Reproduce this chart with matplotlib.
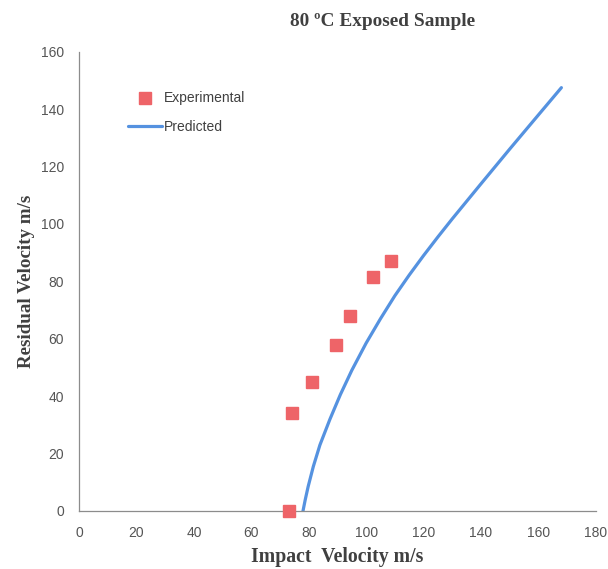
import matplotlib
matplotlib.use("Agg")
import matplotlib.pyplot as plt

# Experimental points
exp_impact = [73, 74, 81, 89.5, 94.5, 102.5, 108.5]
exp_residual = [0, 34, 45, 58, 68, 81.5, 87]

# Predicted curve
pred_impact = [78, 78.8, 79.8, 81.6, 83.9, 87.4, 91, 95, 100, 105, 110,
               115, 120, 125, 130, 140, 150, 160, 168]
pred_residual = [0, 4, 8.5, 15.5, 23, 32, 40.5, 49, 58.5, 67, 75,
                 82.2, 89, 95.5, 101.8, 114, 126.1, 138, 147.5]

x_ticks = [0, 20, 40, 60, 80, 100, 120, 140, 160, 180]
y_ticks = [0, 20, 40, 60, 80, 100, 120, 140, 160]

RED = "#EE6468"
BLUE = "#5592E0"
GREY_TXT = "#404040"

fig = plt.figure(figsize=(6.08, 5.69), dpi=100)
ax = fig.add_axes([0.13, 0.102, 0.85, 0.807])

ax.plot(pred_impact, pred_residual, color=BLUE, lw=2.3, solid_capstyle="round",
        solid_joinstyle="round", label="Predicted", zorder=2)
ax.plot(exp_impact, exp_residual, ls="none", marker="s", ms=8.5, color=RED,
        mec=RED, label="Experimental", clip_on=False, zorder=3)

ax.set_xlim(0, 180)
ax.set_ylim(0, 160)
ax.set_xticks(x_ticks)
ax.set_yticks(y_ticks)

for side in ("top", "right"):
    ax.spines[side].set_visible(False)
for side in ("left", "bottom"):
    ax.spines[side].set_color("#8c8c8c")
    ax.spines[side].set_linewidth(0.9)

ax.tick_params(length=0, labelsize=10, labelcolor="#555555", pad=11)
for lbl in ax.get_xticklabels() + ax.get_yticklabels():
    lbl.set_family("Liberation Sans")

serif = dict(family="Liberation Serif", weight="bold", color=GREY_TXT)
ax.set_xlabel("Impact  Velocity m/s", labelpad=5, size=14.2, **serif)
ax.set_ylabel("Residual Velocity m/s", labelpad=4, size=13.7, **serif)
fig.text(0.63, 0.962, "80 ºC Exposed Sample", ha="center", va="center", size=13.9, **serif)

handles, labels = ax.get_legend_handles_labels()
leg = ax.legend(handles[::-1], labels[::-1], loc="upper left",
                bbox_to_anchor=(0.07, 0.941), frameon=False, handlelength=2.5,
                handletextpad=0.1, labelspacing=1.04,
                prop={"family": "Liberation Sans", "size": 10})
for t in leg.get_texts():
    t.set_color(GREY_TXT)

fig.savefig("out.png", dpi=100, facecolor="white")
